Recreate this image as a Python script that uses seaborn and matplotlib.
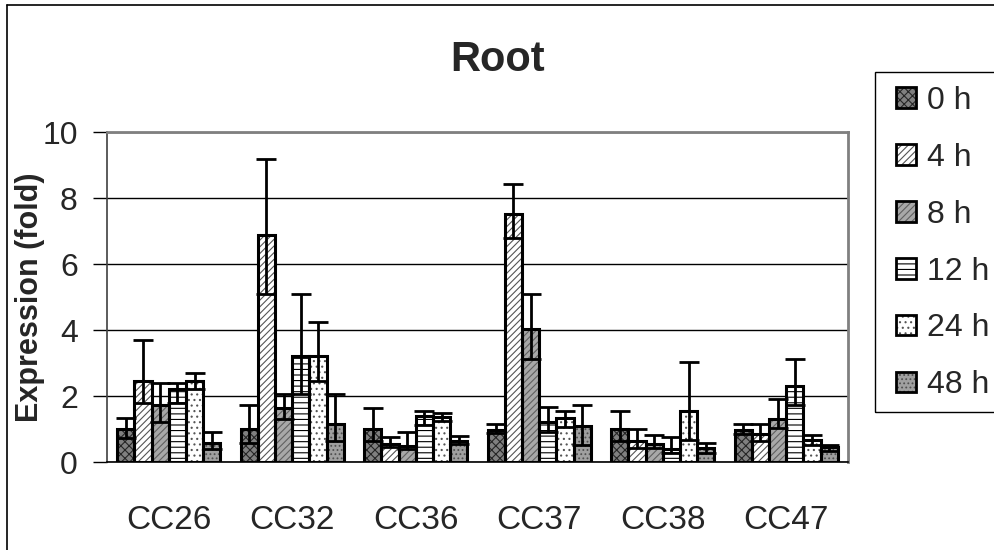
import numpy as np
import pandas as pd
import seaborn as sns
from matplotlib import pyplot as plt
from matplotlib.lines import Line2D
from matplotlib.patches import Rectangle

genes = ['CC26', 'CC32', 'CC36', 'CC37', 'CC38', 'CC47']
times = ['0 h', '4 h', '8 h', '12 h', '24 h', '48 h']

# mean expression per time point (one value per gene)
h0 = [1.00, 1.00, 1.00, 0.97, 1.00, 0.97]
h4 = [2.45, 6.88, 0.55, 7.52, 0.65, 0.85]
h8 = [1.72, 1.63, 0.50, 4.02, 0.55, 1.30]
h12 = [2.20, 3.21, 1.38, 1.22, 0.40, 2.30]
h24 = [2.45, 3.21, 1.35, 1.32, 1.56, 0.66]
h48 = [0.58, 1.15, 0.63, 1.09, 0.41, 0.45]

# error bar ends (lower / upper)
lo0 = [0.72, 0.59, 0.64, 0.89, 0.64, 0.86]
hi0 = [1.32, 1.73, 1.65, 1.15, 1.56, 1.15]
lo4 = [1.78, 5.08, 0.45, 6.80, 0.42, 0.65]
hi4 = [3.70, 9.17, 0.75, 8.42, 1.00, 1.15]
lo8 = [1.22, 1.30, 0.40, 3.11, 0.42, 1.02]
hi8 = [2.40, 2.06, 0.90, 5.08, 0.82, 1.90]
lo12 = [1.78, 2.06, 1.12, 0.90, 0.27, 1.72]
hi12 = [2.40, 5.08, 1.55, 1.66, 0.75, 3.11]
lo24 = [2.20, 2.45, 1.25, 1.07, 0.67, 0.52]
hi24 = [2.71, 4.25, 1.47, 1.55, 3.04, 0.82]
lo48 = [0.39, 0.65, 0.55, 0.52, 0.26, 0.33]
hi48 = [0.90, 2.06, 0.80, 1.73, 0.59, 0.53]

values = [h0, h4, h8, h12, h24, h48]
lows = [lo0, lo4, lo8, lo12, lo24, lo48]
highs = [hi0, hi4, hi8, hi12, hi24, hi48]

# face colour, hatch, hatch colour for each time point
styles = [
    ('#808080', 'xxxx', '#262626'),
    ('#ffffff', '/////', '#555555'),
    ('#a8a8a8', '/////', '#606060'),
    ('#ffffff', '---', '#000000'),
    ('#ffffff', '...', '#555555'),
    ('#a0a0a0', '....', '#505050'),
]

df = pd.DataFrame({
    'gene': genes * len(times),
    'time': np.repeat(times, len(genes)),
    'value': np.concatenate(values),
})

sns.set_style('white')
plt.rcParams['font.family'] = ['Liberation Sans', 'DejaVu Sans']
plt.rcParams['hatch.linewidth'] = 0.8

W, H = 994, 550
fig = plt.figure(figsize=(W / 100, H / 100), dpi=100)
ax = fig.add_axes([107 / W, 1 - 462 / H, 741 / W, 330 / H])

sns.barplot(df, x='gene', y='value', hue='time', order=genes, hue_order=times,
            errorbar=None, width=0.835, gap=0, legend=False, ax=ax, zorder=2)

bar_conts = list(ax.containers)
handles = []
for i, cont in enumerate(bar_conts):
    face, hatch, hcol = styles[i]
    xs = []
    for p in cont:
        p.set_facecolor(face)
        p.set_edgecolor(hcol)
        p.set_hatch(hatch)
        p.set_linewidth(0)
        ax.add_patch(Rectangle((p.get_x(), p.get_y()), p.get_width(), p.get_height(),
                               fill=False, edgecolor='black', lw=2.2, zorder=3))
        xs.append(p.get_x() + p.get_width() / 2)
    v = np.array(values[i])
    yerr = [v - np.array(lows[i]), np.array(highs[i]) - v]
    ax.errorbar(xs, v, yerr=yerr, fmt='none', ecolor='black', elinewidth=2,
                capsize=7.5, capthick=2, zorder=4)
    hp = Rectangle((0, 0), 1, 1, facecolor=face, edgecolor=hcol, hatch=hatch, lw=0)
    op = Rectangle((0, 0), 1, 1, fill=False, edgecolor='black', lw=2)
    handles.append((hp, op))

ax.set_xlim(-0.5, 5.5)
ax.set_ylim(0, 10)
ax.set_yticks(range(0, 11, 2))
ax.yaxis.grid(True, color='black', lw=1, zorder=0)
ax.set_axisbelow(True)

ax.set_xticks(range(len(genes)))
ax.set_xticklabels(genes)
ax.set_xticks(np.arange(-0.5, 6, 1), minor=True)
ax.tick_params(axis='x', which='major', length=0, pad=31, labelsize=24)
ax.tick_params(axis='x', which='minor', length=10, width=1, direction='out', color='black')
ax.tick_params(axis='y', length=10, width=1, direction='out', color='black', pad=11, labelsize=23, left=True)

for side in ['top', 'right']:
    ax.spines[side].set_color('#808080')
    ax.spines[side].set_linewidth(2)
ax.spines['left'].set_color('#404040')
ax.spines['left'].set_linewidth(1.2)
ax.spines['bottom'].set_color('black')
ax.spines['bottom'].set_linewidth(1.2)

ax.set_xlabel('')
ax.set_ylabel('Expression (fold)', fontsize=22, fontweight='bold')
ax.yaxis.set_label_coords((45 - 107) / 741, 0.5)

fig.text(498 / W, 1 - 60 / H, 'Root', fontsize=30, fontweight='bold', ha='center', va='center')

fig.legend(handles, times, loc='upper left', bbox_to_anchor=(896 / W, 1 - 86 / H),
           frameon=False, fontsize=23, borderpad=0, borderaxespad=0,
           handlelength=0.62, handleheight=0.62, handletextpad=0.34, labelspacing=0.84)
fig.add_artist(Rectangle((875 / W, 1 - 412 / H), 0.2, 340 / H, transform=fig.transFigure,
                         fill=False, edgecolor='black', lw=1, clip_on=False))

# outer chart border
fig.add_artist(Line2D([7 / W, 7 / W], [0, 1 - 5 / H], transform=fig.transFigure, color='black', lw=1.2))
fig.add_artist(Line2D([7 / W, 1], [1 - 5 / H, 1 - 5 / H], transform=fig.transFigure, color='black', lw=1.2))

fig.savefig('out.png', dpi=100)
